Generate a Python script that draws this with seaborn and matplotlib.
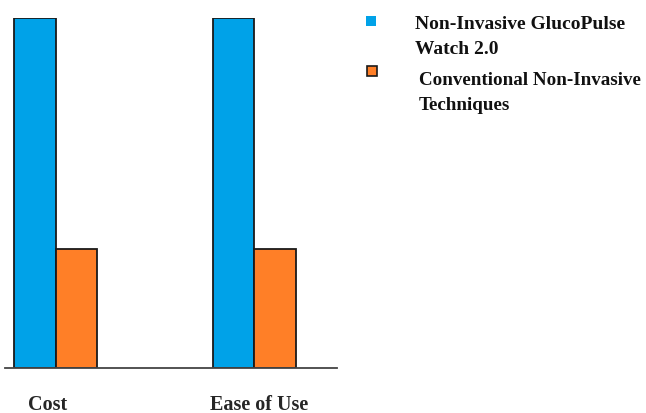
import matplotlib
matplotlib.use("Agg")
import matplotlib.pyplot as plt
from matplotlib.patches import Rectangle
from matplotlib.transforms import ScaledTranslation
import pandas as pd
import seaborn as sns

categories = ["Cost", "Ease of Use"]
series_names = ["Non-Invasive GlucoPulse\nWatch 2.0", "Conventional Non-Invasive\nTechniques"]
glucopulse_values = [100, 100]
conventional_values = [34, 34]
colors = ["#00A2E8", "#FF7F27"]

df = pd.DataFrame({
    "category": categories * 2,
    "method": [series_names[0]] * len(categories) + [series_names[1]] * len(categories),
    "score": glucopulse_values + conventional_values,
})

sns.set_theme(style="white")
plt.rcParams["font.family"] = ["Liberation Serif", "DejaVu Serif"]

fig = plt.figure(figsize=(6.46, 4.14), dpi=100)
ax = fig.add_axes([5 / 646, 1 - 369 / 414, 332 / 646, 350 / 414])

sns.barplot(data=df, x="category", y="score", hue="method", order=categories,
            hue_order=series_names, palette=colors, width=0.42, dodge=True,
            edgecolor="#1a1a1a", linewidth=1.3, saturation=1, ax=ax, legend=False)

ax.set_xlim(-0.254, 1.415)
ax.set_ylim(0, 100)
ax.set_xlabel("")
ax.set_ylabel("")
ax.set_yticks([])
ax.tick_params(axis="x", length=0, pad=18.5)
label_shifts = [-8, 5]  # horizontal nudges of the category labels, in pixels
for lbl, dx in zip(ax.get_xticklabels(), label_shifts):
    lbl.set_fontweight("bold")
    lbl.set_fontsize(14.5)
    lbl.set_transform(lbl.get_transform() + ScaledTranslation(dx / 100, 0, fig.dpi_scale_trans))
for side in ["top", "right", "left"]:
    ax.spines[side].set_visible(False)
ax.spines["bottom"].set_color("#444444")
ax.spines["bottom"].set_linewidth(1.3)

# Legend drawn in figure pixel coordinates
W, H = 646, 414
def px(x, y):
    return x / W, 1 - y / H

fig.patches.append(Rectangle(px(366, 27), 10 / W, 10 / H, transform=fig.transFigure,
                             facecolor=colors[0], edgecolor="none"))
fig.patches.append(Rectangle(px(367, 77), 10 / W, 10 / H, transform=fig.transFigure,
                             facecolor=colors[1], edgecolor="#1a1a1a", linewidth=1.2))
fig.text(*px(415, 16), series_names[0], fontsize=14, fontweight="bold",
         ha="left", va="top", linespacing=1.6, color="#111111")
fig.text(*px(419, 72), series_names[1], fontsize=13.7, fontweight="bold",
         ha="left", va="top", linespacing=1.65, color="#111111")

fig.savefig("out.png", dpi=100)
